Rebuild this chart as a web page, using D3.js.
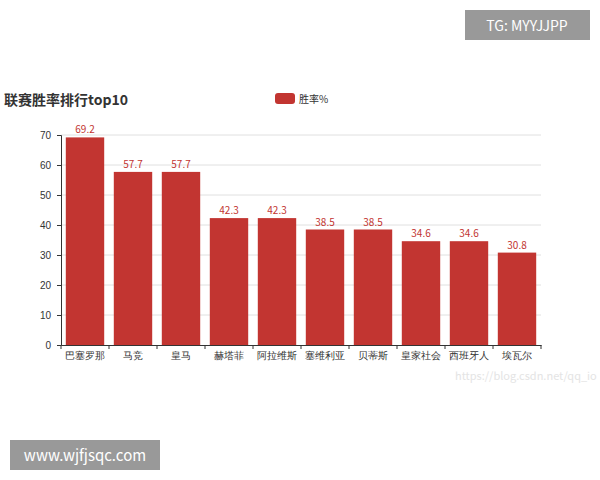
<!DOCTYPE html>
<html><head><meta charset="utf-8">
<script src="https://cdn.jsdelivr.net/npm/d3@7"></script>
<style>body{margin:0;background:#fff;font-family:"Noto Sans CJK SC","Noto Sans",sans-serif}</style>
</head><body><div id="chart"></div>
<script>
const teams = ["巴塞罗那","马竞","皇马","赫塔菲","阿拉维斯","塞维利亚","贝蒂斯","皇家社会","西班牙人","埃瓦尔"];
const winRates = [69.2,57.7,57.7,42.3,42.3,38.5,38.5,34.6,34.6,30.8];
const yTicks = [0,10,20,30,40,50,60,70];

const svg = d3.select("#chart").append("svg").attr("width",600).attr("height",480);
const red = "#c23531";

const x = d3.scaleBand().domain(teams).range([61,541]).paddingInner(0.2).paddingOuter(0.1);
const y = d3.scaleLinear().domain([0,70]).range([345,135]);

// grid
svg.append("g").selectAll("line").data(yTicks.slice(1)).join("line")
  .attr("x1",61).attr("x2",541).attr("y1",d=>y(d)).attr("y2",d=>y(d))
  .attr("stroke","#e0e0e0");

svg.append("g").attr("transform","translate(61,0)")
  .call(d3.axisLeft(y).tickValues(yTicks).tickSize(4).tickPadding(6))
  .call(g=>g.selectAll("text").attr("fill","#333").style("font-size","10px"))
  .call(g=>g.selectAll("line,path").attr("stroke","#333"));

const xa = svg.append("g").attr("transform","translate(0,345)")
  .call(d3.axisBottom(x).tickSize(0).tickPadding(7))
  .call(g=>g.selectAll("text").attr("fill","#333").style("font-size","10px"))
  .call(g=>g.select("path").attr("stroke","#333"));
// ticks between categories
const step = x.step();
xa.selectAll(".sep").data(d3.range(11)).join("line")
  .attr("x1",i=>61+i*48).attr("x2",i=>61+i*48).attr("y1",0).attr("y2",4).attr("stroke","#333");

svg.append("g").selectAll("rect").data(teams).join("rect")
  .attr("x",d=>x(d)).attr("width",x.bandwidth())
  .attr("y",(d,i)=>y(winRates[i])).attr("height",(d,i)=>345-y(winRates[i]))
  .attr("fill",red);

svg.append("g").selectAll("text").data(teams).join("text")
  .attr("x",d=>x(d)+x.bandwidth()/2).attr("y",(d,i)=>y(winRates[i])-4)
  .attr("text-anchor","middle").attr("fill",red).style("font-size","10px")
  .text((d,i)=>winRates[i]);

svg.append("text").attr("x",4).attr("y",105).attr("font-weight","bold")
  .style("font-size","14px").attr("fill","#333").text("联赛胜率排行top10");
svg.append("rect").attr("x",275).attr("y",93).attr("width",20).attr("height",11).attr("rx",3).attr("fill",red);
svg.append("text").attr("x",299).attr("y",103).style("font-size","10px").attr("fill","#333").text("胜率%");

svg.append("text").attr("x",455).attr("y",380).style("font-size","11px").attr("fill","#e4e4e4").text("https://blog.csdn.net/qq_io");

svg.append("rect").attr("x",465).attr("y",10).attr("width",125).attr("height",30).attr("fill","#999");
svg.append("text").attr("x",527).attr("y",31).attr("text-anchor","middle").attr("fill","#fff").style("font-size","14px").text("TG: MYYJJPP");
svg.append("rect").attr("x",10).attr("y",440).attr("width",150).attr("height",30).attr("fill","#999");
svg.append("text").attr("x",85).attr("y",461).attr("text-anchor","middle").attr("fill","#fff").style("font-size","15px").text("www.wjfjsqc.com");
</script></body></html>
